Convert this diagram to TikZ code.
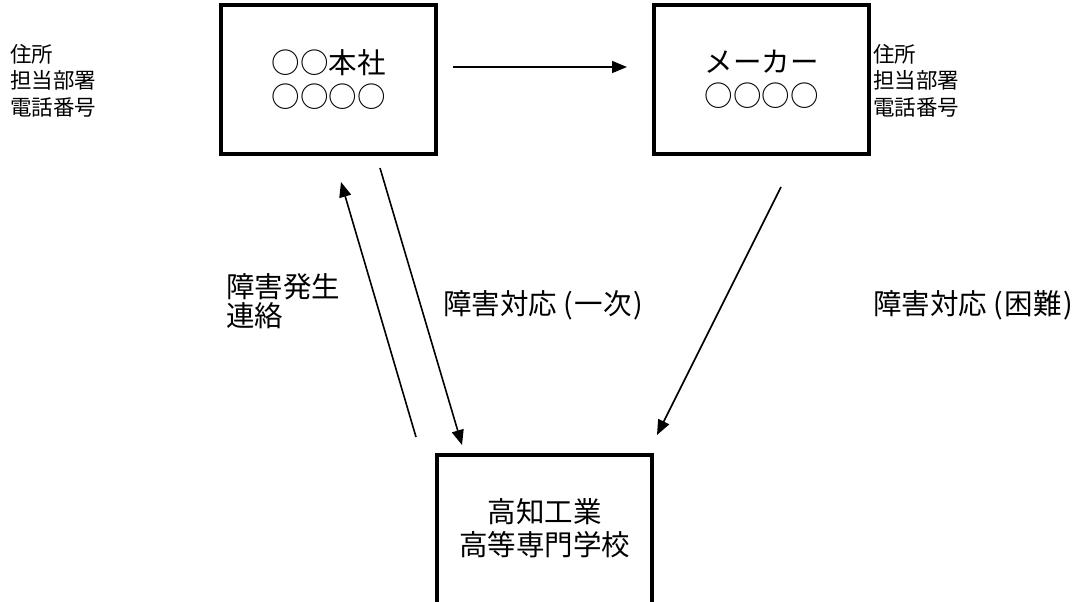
\documentclass[tikz,border=0pt]{standalone}
\usepackage{fontspec}
\setmainfont{Noto Sans CJK JP}
\usetikzlibrary{arrows.meta}
\begin{document}
\begin{tikzpicture}[x=1pt,y=-1pt,
  box/.style={draw,line width=4pt,rectangle,inner sep=0pt,minimum width=215pt,minimum height=148pt,align=center,font=\fontsize{28.5}{34}\selectfont},
  big/.style={inner sep=0pt,align=left,font=\fontsize{28.5}{29}\selectfont},
  small/.style={inner sep=0pt,align=left,font=\fontsize{21.5}{26.5}\selectfont},
  conn/.style={line width=1.6pt,-{Triangle[length=15pt,width=12pt]}}]
\useasboundingbox (0,0) rectangle (1079,602);
\clip (0,0) rectangle (1079,602);
\node[box] (honsha) at (328.5,79.5) {○○本社\\○○○○};
\node[box] (maker) at (761.5,79.5) {メーカー\\○○○○};
\node[box,minimum height=190pt] (kosen) at (544.5,550) {};
\node[inner sep=0pt,align=center,font=\fontsize{28.5}{33}\selectfont] (kosentext) at (544.5,528) {高知工業\\高等専門学校};
\node[small,anchor=west] (addrL) at (10,80.5) {住所\\担当部署\\電話番号};
\node[small,anchor=west] (addrR) at (873,80.5) {住所\\担当部署\\電話番号};
\node[big,anchor=west] (lab1) at (226,301) {障害発生\\連絡};
\node[big,anchor=west] (lab2) at (443,305) {障害対応\kern6pt(\kern2pt一次\kern2pt)};
\node[big,anchor=west] (lab3) at (873,305) {障害対応\kern6pt(\kern2pt困難\kern2pt)};
\coordinate (a1s) at (453,67);
\coordinate (a1e) at (627,67);
\coordinate (a2s) at (416,437);
\coordinate (a2e) at (341,182);
\coordinate (a3s) at (380,168);
\coordinate (a3e) at (462,445);
\coordinate (a4s) at (781,187);
\coordinate (a4e) at (657,435);
\draw[conn] (a1s) -- (a1e);
\draw[conn] (a2s) -- (a2e);
\draw[conn] (a3s) -- (a3e);
\draw[conn] (a4s) -- (a4e);
\end{tikzpicture}
\end{document}
